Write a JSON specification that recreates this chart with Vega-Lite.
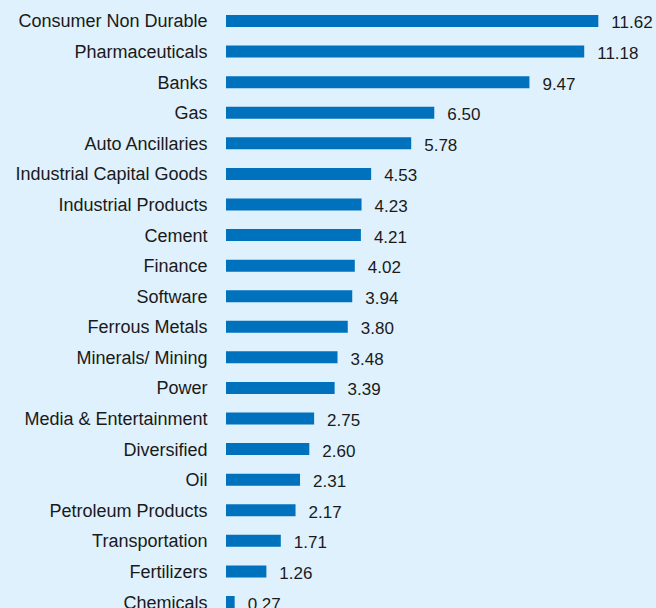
{
  "$schema": "https://vega.github.io/schema/vega-lite/v6.json",
  "width": 430,
  "height": 608,
  "autosize": {"type": "none"},
  "padding": {"left": 226, "top": 0, "right": 0, "bottom": 0},
  "background": "#dff1fc",
  "config": {"view": {"stroke": null}, "font": "Liberation Sans"},
  "data": {"values": [
    {"sector": "Consumer Non Durable", "value": 11.62},
    {"sector": "Pharmaceuticals", "value": 11.18},
    {"sector": "Banks", "value": 9.47},
    {"sector": "Gas", "value": 6.50},
    {"sector": "Auto Ancillaries", "value": 5.78},
    {"sector": "Industrial Capital Goods", "value": 4.53},
    {"sector": "Industrial Products", "value": 4.23},
    {"sector": "Cement", "value": 4.21},
    {"sector": "Finance", "value": 4.02},
    {"sector": "Software", "value": 3.94},
    {"sector": "Ferrous Metals", "value": 3.80},
    {"sector": "Minerals/ Mining", "value": 3.48},
    {"sector": "Power", "value": 3.39},
    {"sector": "Media & Entertainment", "value": 2.75},
    {"sector": "Diversified", "value": 2.60},
    {"sector": "Oil", "value": 2.31},
    {"sector": "Petroleum Products", "value": 2.17},
    {"sector": "Transportation", "value": 1.71},
    {"sector": "Fertilizers", "value": 1.26},
    {"sector": "Chemicals", "value": 0.27}
  ]},
  "encoding": {
    "y": {
      "field": "sector", "type": "nominal", "sort": null,
      "scale": {"range": [5.7, 617.3], "paddingInner": 0.6076, "paddingOuter": 0.3038},
      "axis": {"title": null, "domain": false, "ticks": false, "grid": false, "labelPadding": 19, "labelOffset": 1.5, "labelFontSize": 18, "labelColor": "#1a1a1a", "labelFont": "Liberation Sans", "labelLimit": 300}
    },
    "x": {
      "field": "value", "type": "quantitative",
      "scale": {"domain": [0, 13.42], "nice": false},
      "axis": null
    }
  },
  "layer": [
    {"mark": {"type": "bar", "color": "#0071bc"}},
    {"mark": {"type": "text", "align": "left", "baseline": "middle", "dx": 13, "dy": 2.5, "fontSize": 17, "color": "#1a1a1a"},
     "encoding": {"text": {"field": "value", "type": "quantitative", "format": ".2f"}}}
  ]
}
